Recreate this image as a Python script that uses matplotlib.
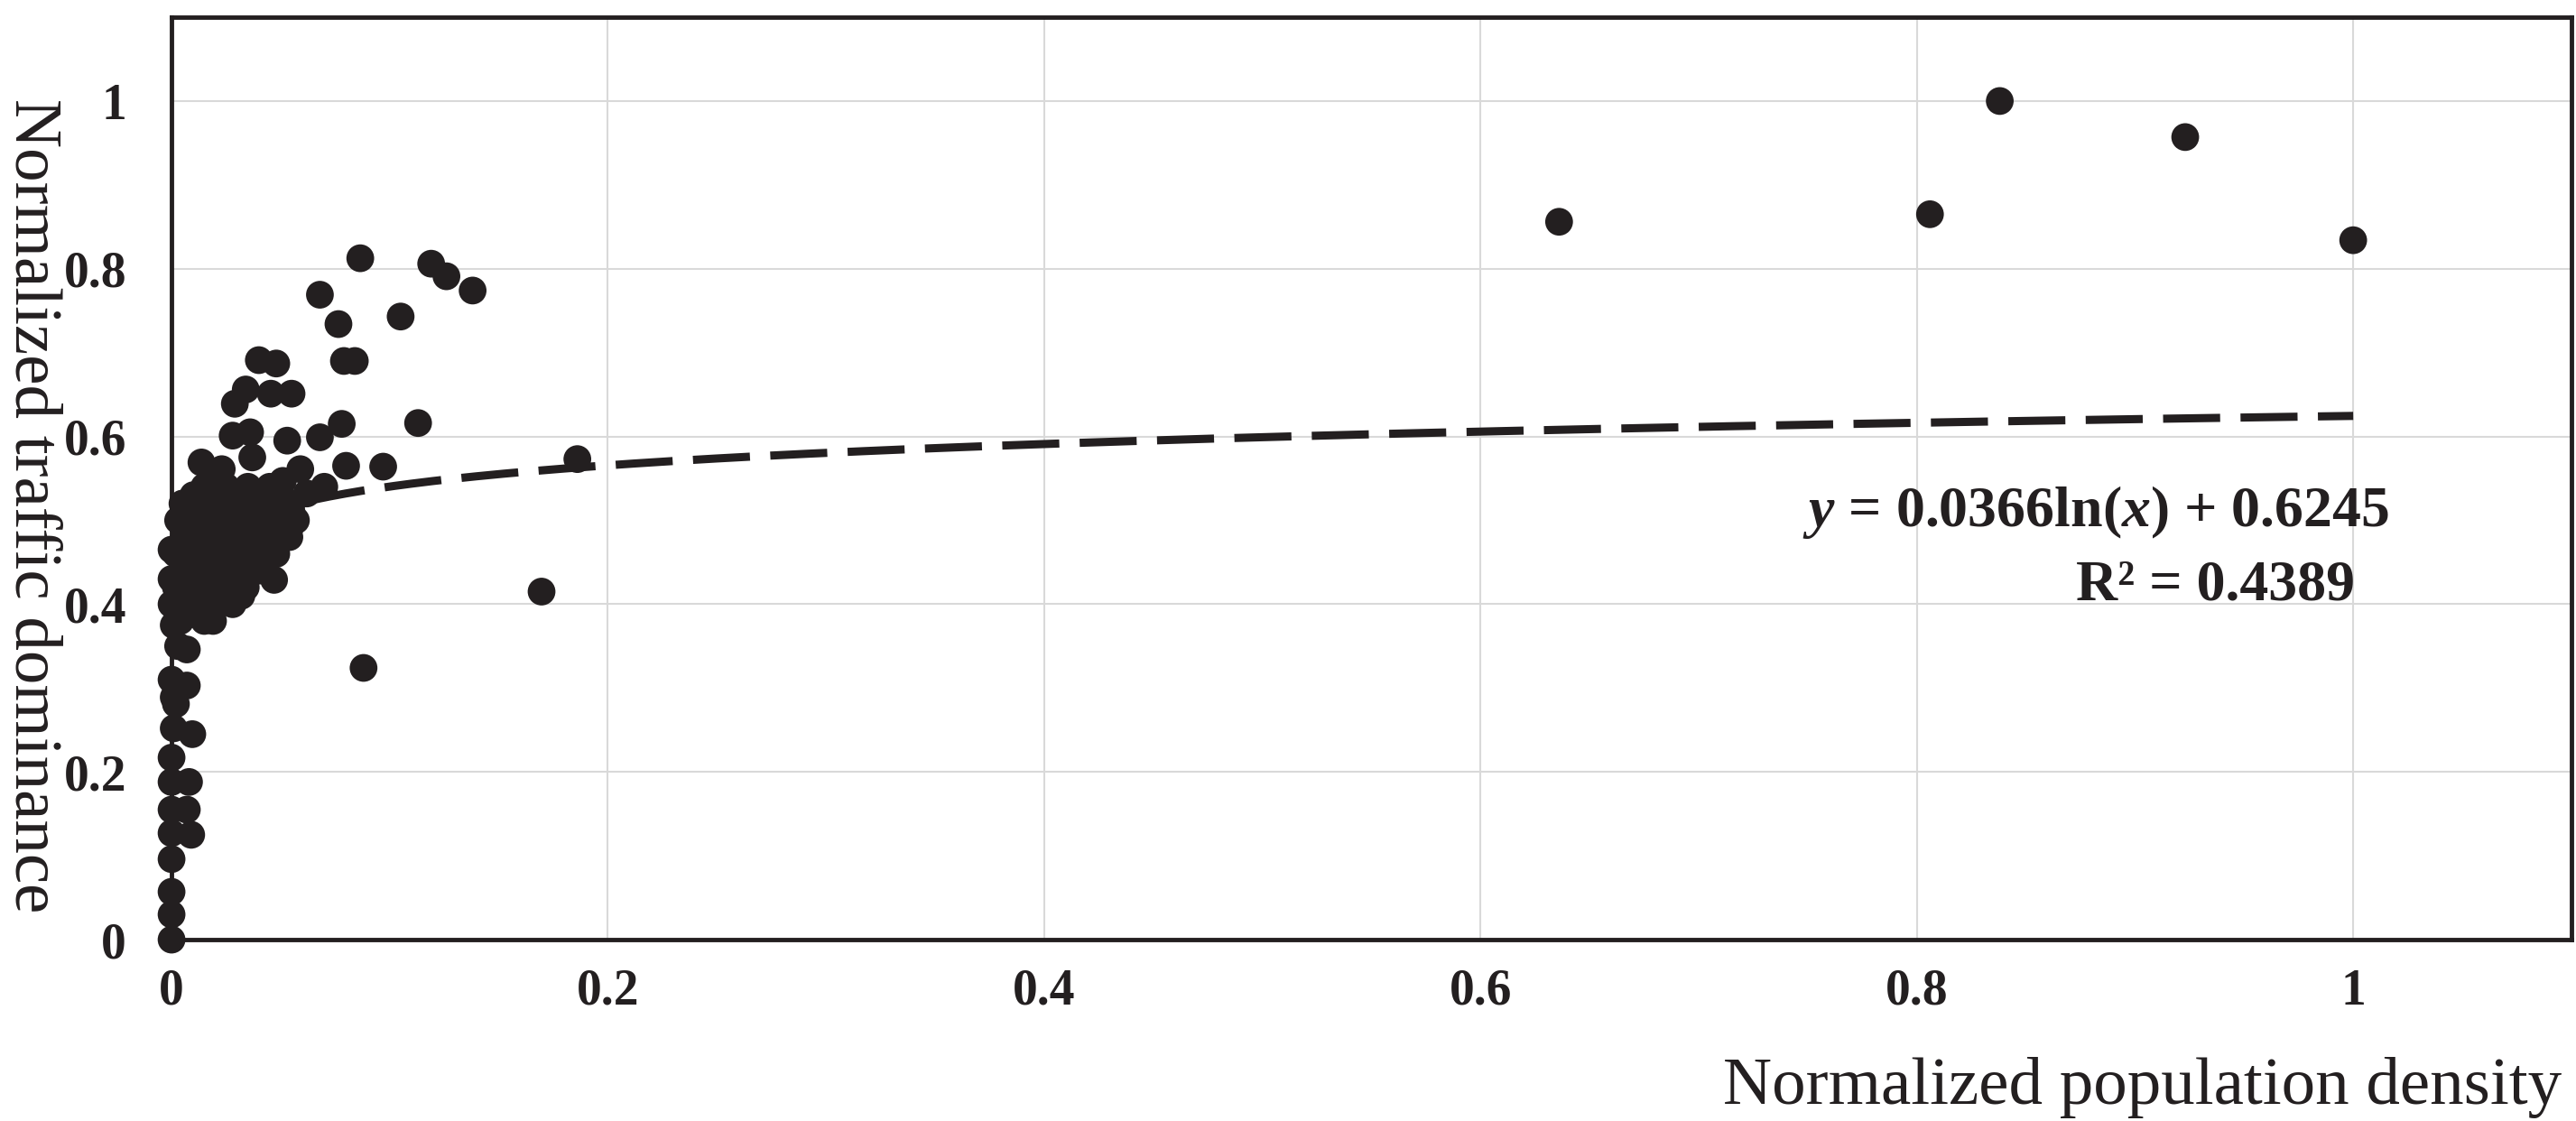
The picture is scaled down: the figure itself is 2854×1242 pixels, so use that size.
import numpy as np
import matplotlib.pyplot as plt

plt.rcParams.update({
    'font.family': 'Liberation Serif',
    'mathtext.fontset': 'custom',
    'mathtext.rm': 'Liberation Serif:bold',
    'mathtext.it': 'Liberation Serif:bold:italic',
    'mathtext.bf': 'Liberation Serif:bold',
})

# normalized population density (x) and normalized traffic dominance (y)
pop_density = [
    # far right group
    0.636, 0.806, 0.838, 0.923, 1.0,
    # middle / scattered
    0.1696, 0.186, 0.088, 0.0865, 0.068, 0.0765, 0.079, 0.084, 0.105,
    0.119, 0.126, 0.138, 0.113, 0.097, 0.080, 0.078, 0.068, 0.053,
    0.059, 0.070, 0.062, 0.051, 0.047,
    # upper cluster
    0.040, 0.048, 0.034, 0.029, 0.055, 0.0455, 0.028, 0.036, 0.0137,
    0.023, 0.037,
    # dense blob
    0.015, 0.025, 0.035, 0.045,
    0.010, 0.020, 0.030, 0.040, 0.050,
    0.005, 0.018, 0.030, 0.042, 0.055,
    0.008, 0.020, 0.032, 0.044, 0.055,
    0.003, 0.012, 0.024, 0.036, 0.048, 0.057,
    0.008, 0.020, 0.032, 0.044, 0.054,
    0.006, 0.018, 0.030, 0.042, 0.054,
    0.010, 0.022, 0.034, 0.046,
    0.002, 0.012, 0.024, 0.036, 0.048,
    0.008, 0.020, 0.032, 0.042,
    0.006, 0.018, 0.030, 0.040,
    0.010, 0.022, 0.032,
    0.002, 0.012, 0.022, 0.034,
    0.006, 0.016, 0.026,
    0.008, 0.020, 0.028,
    0.004, 0.015,
    0.0, 0.0, 0.0,
    # left column
    0.032, 0.019, 0.001, 0.003, 0.007, 0.0, 0.007, 0.001, 0.002, 0.002,
    0.001, 0.0095, 0.0, 0.0, 0.008, 0.0, 0.007, 0.0, 0.009, 0.0, 0.0,
    0.0, 0.0,
]
traffic_dom = [
    0.856, 0.865, 1.0, 0.957, 0.834,
    0.415, 0.573, 0.324, 0.8125, 0.769, 0.734, 0.690, 0.690, 0.743,
    0.806, 0.791, 0.774, 0.616, 0.564, 0.565, 0.615, 0.599, 0.595,
    0.561, 0.540, 0.532, 0.547, 0.429,
    0.691, 0.687, 0.656, 0.639, 0.651, 0.651, 0.601, 0.605, 0.569,
    0.561, 0.575,
    0.54, 0.54, 0.54, 0.54,
    0.53, 0.53, 0.53, 0.53, 0.53,
    0.52, 0.52, 0.52, 0.52, 0.52,
    0.51, 0.51, 0.51, 0.51, 0.51,
    0.50, 0.50, 0.50, 0.50, 0.50, 0.50,
    0.49, 0.49, 0.49, 0.49, 0.49,
    0.48, 0.48, 0.48, 0.48, 0.48,
    0.47, 0.47, 0.47, 0.47,
    0.46, 0.46, 0.46, 0.46, 0.46,
    0.45, 0.45, 0.45, 0.45,
    0.44, 0.44, 0.44, 0.44,
    0.43, 0.43, 0.43,
    0.42, 0.42, 0.42, 0.42,
    0.41, 0.41, 0.41,
    0.40, 0.40, 0.40,
    0.38, 0.38,
    0.40, 0.43, 0.465,
    0.41, 0.38, 0.375, 0.35, 0.346, 0.31, 0.303, 0.289, 0.295, 0.281,
    0.252, 0.245, 0.217, 0.188, 0.188, 0.155, 0.155, 0.127, 0.125, 0.096, 0.057,
    0.030, 0.0,
]

# logarithmic trendline
slope, intercept, r2 = 0.0366, 0.6245, 0.4389

ink = '#231f20'

fig = plt.figure(figsize=(28.54, 12.42), dpi=100)
ax = fig.add_axes([0.0666, 0.1618, 0.9316, 0.8229])

ax.scatter(pop_density, traffic_dom, s=490, c=ink, edgecolors='none',
           zorder=3, clip_on=False)

xs = np.linspace(0.005, 1.0, 400)
ax.plot(xs, slope * np.log(xs) + intercept, color=ink, lw=6.5,
        dashes=(7, 2.5), zorder=4)

ax.set_xlim(0, 1.1)
ax.set_ylim(0, 1.1)
ticks = [0, 0.2, 0.4, 0.6, 0.8, 1]
labels = ['0', '0.2', '0.4', '0.6', '0.8', '1']
ax.set_xticks(ticks, labels)
ax.set_yticks(ticks, labels)
ax.tick_params(axis='both', length=0, labelsize=40, labelcolor=ink)
ax.tick_params(axis='x', pad=23)
ax.tick_params(axis='y', pad=36)
for t in ax.get_xticklabels() + ax.get_yticklabels():
    t.set_fontweight('bold')

ax.grid(True, color='#d9d9d9', lw=1.5)
ax.set_axisbelow(True)
for s in ax.spines.values():
    s.set_linewidth(3.5)
    s.set_color(ink)

ax.text(1.0166, 0.4935, r'$y$ = 0.0366ln($x$) + 0.6245', fontsize=46,
        fontweight='bold', ha='right', va='baseline', color=ink)
ax.text(1.0008, 0.405, 'R² = %.4f' % r2, fontsize=46,
        fontweight='bold', ha='right', va='baseline', color=ink)

fig.text(0.9944, 0.0153, 'Normalized population density', fontsize=54,
         ha='right', va='baseline', color=ink)
fig.text(0.0125, 0.549, 'Normalized traffic dominance', fontsize=54,
         rotation=270, ha='center', va='center', color=ink)

plt.savefig('out.png', dpi=100)
